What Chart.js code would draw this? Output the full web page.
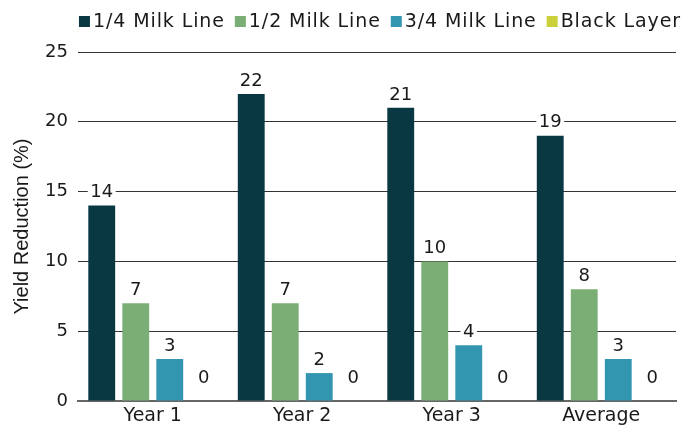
<!DOCTYPE html>
<html>
<head>
<meta charset="utf-8">
<script src="https://cdn.jsdelivr.net/npm/chart.js@4/dist/chart.umd.min.js"></script>
<style>
  html, body { margin: 0; padding: 0; background: #fff; }
  #wrap { width: 683px; height: 432px; }
</style>
</head>
<body>
<div id="wrap"><canvas id="myChart"></canvas></div>
<script>
  const categorias = ['Year 1', 'Year 2', 'Year 3', 'Average'];
  const series = ['1/4 Milk Line', '1/2 Milk Line', '3/4 Milk Line', 'Black Layer'];

  // Yield reduction (%) per harvest stage
  const quarterMilk = [14, 22, 21, 19];
  const halfMilk = [7, 7, 10, 8];
  const threeQuarterMilk = [3, 2, 4, 3];
  const blackLayer = [0, 0, 0, 0];

  const yTicks = [0, 5, 10, 15, 20, 25];

  const cores = ['#093843', '#7aae74', '#3396b0', '#cbd13a'];
  const fonte = '"DejaVu Sans", sans-serif';
  const corTexto = '#1a1a1a';

  // legenda desenhada à mão: quadrado colado no texto, alinhada à direita
  const legendaPlugin = {
    id: 'legendaCompacta',
    afterDraw(chart) {
      const ctx = chart.ctx;
      ctx.save();
      ctx.font = '19px ' + fonte;
      ctx.letterSpacing = '0.9px';
      ctx.textBaseline = 'middle';
      const caixa = 11, gapTexto = 3, gapItem = 10;
      const itens = chart.data.datasets.map(ds => ({
        texto: ds.label,
        cor: ds.backgroundColor,
        w: ctx.measureText(ds.label).width
      }));
      const total = itens.reduce((s, it) => s + caixa + gapTexto + it.w, 0) + gapItem * (itens.length - 1);
      let x = chart.width - 2 - total;
      const y = 21.5;
      itens.forEach(it => {
        ctx.fillStyle = it.cor;
        ctx.fillRect(x, y - caixa / 2, caixa, caixa);
        x += caixa + gapTexto;
        ctx.fillStyle = corTexto;
        ctx.fillText(it.texto, x, y + 1);
        x += it.w + gapItem;
      });
      ctx.restore();
    }
  };

  // valores em cima das barras, com fundo branco cortando a grade
  const rotulosPlugin = {
    id: 'rotulos',
    afterDatasetsDraw(chart) {
      const ctx = chart.ctx;
      ctx.save();
      ctx.font = '18px ' + fonte;
      ctx.textAlign = 'center';
      ctx.textBaseline = 'middle';
      chart.data.datasets.forEach((ds, i) => {
        const meta = chart.getDatasetMeta(i);
        meta.data.forEach((bar, j) => {
          const v = ds.data[j];
          const txt = String(v);
          const y = bar.y - (v === 0 ? 23.5 : 14);
          const w = ctx.measureText(txt).width + 5;
          ctx.fillStyle = '#fff';
          ctx.fillRect(bar.x - w / 2, y - 9, w, 18);
          ctx.fillStyle = corTexto;
          ctx.fillText(txt, bar.x, y + 1);
        });
      });
      ctx.restore();
    }
  };

  const dados = {
    labels: categorias,
    datasets: [quarterMilk, halfMilk, threeQuarterMilk, blackLayer].map((valores, i) => ({
      label: series[i],
      data: valores,
      backgroundColor: cores[i],
      borderWidth: 0,
      categoryPercentage: 0.91,
      barPercentage: 0.79
    }))
  };

  const config = {
    type: 'bar',
    data: dados,
    plugins: [rotulosPlugin, legendaPlugin],
    options: {
      responsive: true,
      maintainAspectRatio: false,
      animation: false,
      layout: { padding: { left: 4, right: 7, top: 52, bottom: 0 } },
      plugins: {
        legend: { display: false },
        tooltip: { enabled: false }
      },
      scales: {
        x: {
          grid: { display: false, drawTicks: false },
          border: { display: true, color: '#666', width: 2 },
          ticks: { color: corTexto, padding: 6, font: { family: fonte, size: 19, lineHeight: 1 } }
        },
        y: {
          min: 0,
          max: 25,
          afterBuildTicks: (scale) => { scale.ticks = yTicks.map(v => ({ value: v })); },
          grid: { color: '#333', lineWidth: 1, drawTicks: false },
          border: { display: false },
          ticks: { color: corTexto, padding: 10, font: { family: fonte, size: 18 } },
          title: {
            display: true,
            text: 'Yield Reduction (%)',
            color: corTexto,
            font: { family: '"Liberation Sans", Arial, sans-serif', size: 20 },
            padding: { top: 6, bottom: 0 }
          },
          afterFit: (scale) => { scale.width = 74; }
        }
      }
    }
  };

  const ctx = document.getElementById('myChart').getContext('2d');
  const myChart = new Chart(ctx, config);
</script>
</body>
</html>
